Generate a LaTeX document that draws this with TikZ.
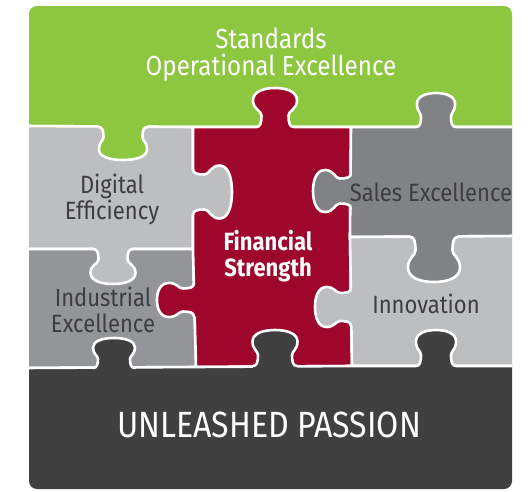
\documentclass[tikz,border=0pt]{standalone}
\usepackage{fontspec}
\setmainfont[FakeStretch=0.88]{Fira Sans}
\definecolor{cgreen}{RGB}{141,198,63}
\definecolor{clight}{RGB}{188,190,192}
\definecolor{cmid}{RGB}{147,149,152}
\definecolor{csales}{RGB}{128,130,133}
\definecolor{cred}{RGB}{158,6,44}
\definecolor{cbase}{RGB}{64,64,65}
\definecolor{cink}{RGB}{62,62,64}
% puzzle tab: centre of base (#1,#2), rotation #3, depth #4,
% half width of the knob #5, half width of the neck #6, colour #7
\newcommand\ptab[7]{%
  \begin{scope}[shift={(#1,#2)},rotate=#3]
    \fill[#7] (-#6-5,-4) -- (-#6-5,0)
      .. controls (-#6-1,0) and (-#6,0.12*#4) .. (-#6,0.3*#4)
      .. controls (-#6,0.42*#4) and (-#5,0.45*#4) .. (-#5,0.68*#4)
      .. controls (-#5,0.9*#4) and (-0.55*#5,#4) .. (0,#4)
      .. controls (0.55*#5,#4) and (#5,0.9*#4) .. (#5,0.68*#4)
      .. controls (#5,0.45*#4) and (#6,0.42*#4) .. (#6,0.3*#4)
      .. controls (#6,0.12*#4) and (#6+1,0) .. (#6+5,0)
      -- (#6+5,-4) -- cycle;
    \draw[seam] (-#6-5,0)
      .. controls (-#6-1,0) and (-#6,0.12*#4) .. (-#6,0.3*#4)
      .. controls (-#6,0.42*#4) and (-#5,0.45*#4) .. (-#5,0.68*#4)
      .. controls (-#5,0.9*#4) and (-0.55*#5,#4) .. (0,#4)
      .. controls (0.55*#5,#4) and (#5,0.9*#4) .. (#5,0.68*#4)
      .. controls (#5,0.45*#4) and (#6,0.42*#4) .. (#6,0.3*#4)
      .. controls (#6,0.12*#4) and (#6+1,0) .. (#6+5,0);
  \end{scope}}
\begin{document}
\begin{tikzpicture}[x=1pt,y=-1pt,
  seam/.style={draw=white,line width=2.6pt,line join=round,line cap=round},
  darktext/.style={text=cink,font=\fontsize{25}{26}\selectfont,align=center,inner sep=0pt},
  lighttext/.style={text=white,font=\fontsize{25}{26}\selectfont,align=center,inner sep=0pt}]
\useasboundingbox (0,0) rectangle (530,491);
\begin{scope}
  \clip[rounded corners=8] (29,6) rectangle (512,489);
  % the seven pieces as plain cells
  \filldraw[fill=cgreen,seam] (24,1) -- (517,1) -- (517,127) -- (351,127) -- (193,127) -- (24,126) -- cycle;
  \filldraw[fill=clight,seam] (24,126) -- (193,127) -- (193,249) -- (24,249) -- cycle;
  \filldraw[fill=cmid,seam] (24,249) -- (193,249) -- (196,367) -- (24,368) -- cycle;
  \filldraw[fill=cred,seam] (193,127) -- (351,127) -- (350,237) -- (352,366) -- (196,367) -- (193,249) -- cycle;
  \filldraw[fill=csales,seam] (351,127) -- (517,127) -- (517,236) -- (350,237) -- cycle;
  \filldraw[fill=clight,seam] (350,237) -- (517,236) -- (517,366) -- (352,366) -- cycle;
  \filldraw[fill=cbase,seam] (24,368) -- (196,367) -- (352,366) -- (517,366) -- (517,494) -- (24,494) -- cycle;
  % interlocking tabs
  \ptab{123}{127}{0}{33}{24}{19.5}{cgreen}
  \ptab{275}{127}{180}{39}{22}{13.5}{cred}
  \ptab{436}{127}{180}{34}{19}{15}{csales}
  \ptab{193}{192}{90}{39}{26.5}{17.5}{clight}
  \ptab{351}{191}{-90}{38}{21}{12.5}{csales}
  \ptab{113}{249}{0}{35}{22.5}{14.5}{clight}
  \ptab{194}{300}{-90}{37}{17}{11.5}{cred}
  \ptab{434}{237}{0}{45}{26}{18.5}{csales}
  \ptab{351}{307}{-90}{36}{20}{14}{clight}
  \ptab{114}{368}{180}{30}{21}{16}{cbase}
  \ptab{275}{366}{180}{36}{22.5}{17}{cbase}
  \ptab{436}{366}{180}{36}{20}{15}{cbase}
\end{scope}
% labels
\node[lighttext,font=\fontsize{27.5}{27}\selectfont] (std) at (271,55) {Standards\\Operational Excellence};
\node[darktext] (dig) at (112,199) {Digital\\Efficiency};
\node[darktext] (sal) at (431,192) {Sales Excellence};
\node[lighttext,font=\fontsize{25}{26}\selectfont\bfseries] (fin) at (268,256) {Financial\\Strength};
\node[darktext] (ind) at (103,310) {Industrial\\Excellence};
\node[darktext] (inn) at (426,304) {Innovation};
\node[lighttext,font=\fontsize{36.5}{38}\selectfont] (pas) at (269,425) {UNLEASHED PASSION};
\end{tikzpicture}
\end{document}
